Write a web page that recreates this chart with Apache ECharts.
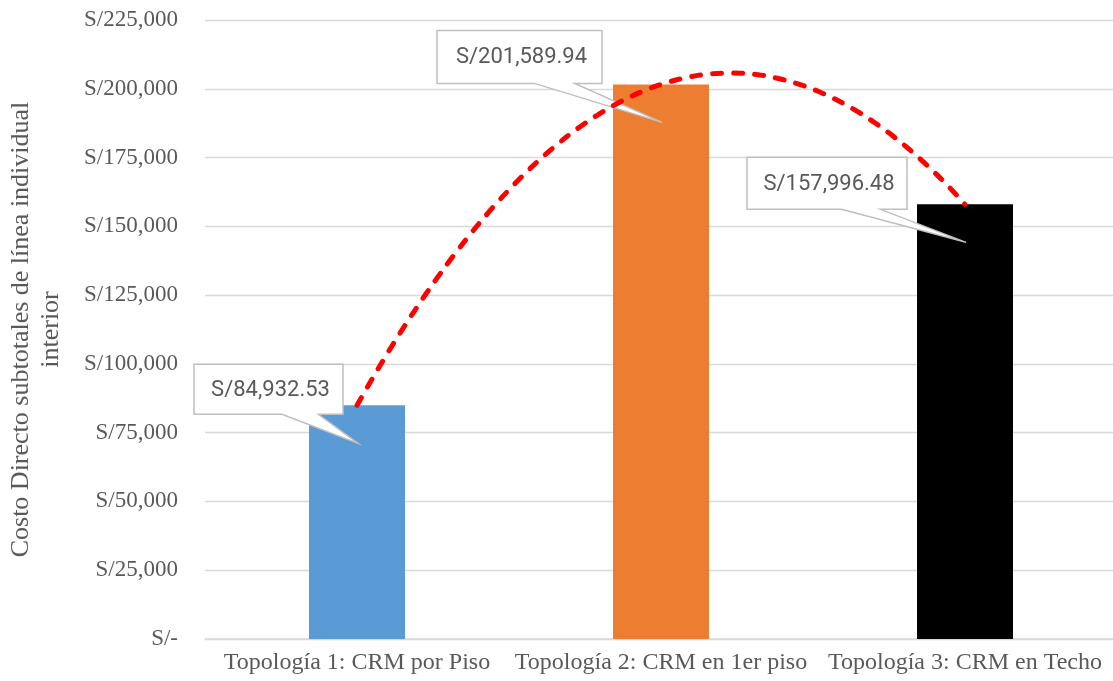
<!DOCTYPE html>
<html>
<head>
<meta charset="utf-8">
<script src="https://cdn.jsdelivr.net/npm/echarts@6/dist/echarts.min.js"></script>
<style>
html,body{margin:0;padding:0;background:#fff;}
#chart{width:1113px;height:681px;}
</style>
</head>
<body>
<div id="chart"></div>
<script>
// ---- data ----
const categories = ['Topología 1: CRM por Piso', 'Topología 2: CRM en 1er piso', 'Topología 3: CRM en Techo'];
const costs = [84932.53, 201589.94, 157996.48];
const barColors = ['#5B9BD5', '#ED7D31', '#000000'];
const yTicks = [0, 25000, 50000, 75000, 100000, 125000, 150000, 175000, 200000, 225000];
const yAxisTitle = 'Costo Directo subtotales de línea individual\ninterior';

// callout layout (pixel offsets relative to bar top centre)
const calloutLayout = [
  {dx: -163, w: 149, dy: -41, h: 50},
  {dx: -224, w: 165, dy: -54, h: 53},
  {dx: -218, w: 160, dy: -47, h: 52}
];

// polynomial (order 2) trendline fitted to the three values
function trendline(vals, steps) {
  const [y1, y2, y3] = vals;
  const a = (y1 - 2 * y2 + y3) / 2;
  const b = (y2 - y1) - 3 * a;
  const c = y1 - a - b;
  const pts = [];
  for (let k = 0; k <= steps; k++) {
    const x = 1 + 2 * k / steps;
    pts.push([x, a * x * x + b * x + c]);
  }
  return pts;
}

function fmtTick(v) {
  if (v === 0) return 'S/-';
  return 'S/' + v.toLocaleString('en-US');
}
function fmtLabel(v) {
  return 'S/' + v.toLocaleString('en-US', {minimumFractionDigits: 2, maximumFractionDigits: 2});
}

const chart = echarts.init(document.getElementById('chart'));
const option = {
  animation: false,
  backgroundColor: '#ffffff',
  grid: {left: 205, top: 20, width: 912, height: 619, containLabel: false, outerBoundsMode: 'none'},
  xAxis: [
    {
      type: 'category',
      data: categories,
      axisLine: {lineStyle: {color: '#d9d9d9', width: 1.5}},
      axisTick: {show: false},
      axisLabel: {fontFamily: 'Liberation Serif', fontSize: 24, color: '#595959', margin: 12, interval: 0}
    },
    {
      type: 'value', min: 0.5, max: 3.5, show: false
    }
  ],
  yAxis: {
    type: 'value',
    min: yTicks[0],
    max: yTicks[yTicks.length - 1],
    interval: yTicks[1] - yTicks[0],
    axisLine: {show: false},
    axisTick: {show: false},
    splitLine: {lineStyle: {color: '#d9d9d9', width: 1.3}},
    axisLabel: {fontFamily: 'Liberation Serif', fontSize: 23, color: '#595959', margin: 27, formatter: fmtTick},
    name: yAxisTitle,
    nameLocation: 'middle',
    nameRotate: 90,
    nameGap: 139,
    nameTextStyle: {fontFamily: 'Liberation Serif', fontSize: 26, color: '#595959', lineHeight: 30, align: 'center'}
  },
  series: [
    {
      type: 'bar',
      barWidth: 96,
      data: costs.map((v, i) => ({value: v, itemStyle: {color: barColors[i]}})),
      z: 2
    },
    {
      type: 'custom',
      xAxisIndex: 0,
      z: 3,
      data: costs.map((v, i) => [i, v]),
      renderItem: function (params, api) {
        const i = params.dataIndex;
        const p = api.coord([api.value(0), api.value(1)]);
        const L = calloutLayout[i];
        const left = p[0] + L.dx, right = left + L.w;
        const top = p[1] + L.dy, bottom = top + L.h;
        const bL = left + 0.59 * L.w, bR = left + 0.835 * L.w;
        const tip = [p[0] + 1, p[1] + 38];
        const pts = [[left, top], [right, top], [right, bottom], [bR, bottom], tip, [bL, bottom], [left, bottom]];
        return {
          type: 'group',
          children: [
            {type: 'polygon', shape: {points: pts}, style: {fill: '#ffffff', stroke: '#bfbfbf', lineWidth: 1.5}},
            {type: 'text', style: {text: fmtLabel(costs[i]), x: (left + right) / 2 + 2, y: (top + bottom) / 2 + 1,
              align: 'center', verticalAlign: 'middle', fontFamily: 'Roboto', fontSize: 22, fill: '#595959'}}
          ]
        };
      }
    },
    {
      type: 'line',
      xAxisIndex: 1,
      data: trendline(costs, 60),
      showSymbol: false,
      smooth: true,
      z: 4,
      lineStyle: {color: '#ff0000', width: 5, type: [9, 12], cap: 'round'}
    }
  ]
};
chart.setOption(option);
</script>
</body>
</html>
